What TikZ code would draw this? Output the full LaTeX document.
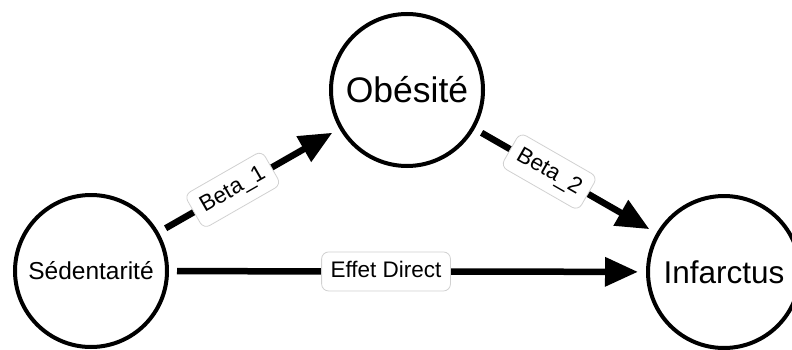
\documentclass[tikz,border=0pt]{standalone}
\usepackage{fontspec}
\setmainfont{Liberation Sans}
\usetikzlibrary{arrows.meta}
\begin{document}
\begin{tikzpicture}[x=1pt,y=-1pt,
  var/.style={circle,draw=black,line width=4pt,fill=white,minimum size=152pt,inner sep=0pt},
  conn/.style={line width=6.5pt,-{Triangle[length=33pt,width=28pt]},shorten <=8pt,shorten >=8pt},
  lab/.style={draw=black!18,line width=0.8pt,fill=white,rounded corners=7pt,font=\fontsize{22.5}{26}\selectfont,text height=16.5pt,text depth=4.5pt,inner xsep=9pt,inner ysep=9pt}]
\useasboundingbox (0,0) rectangle (792,350);
\node[var,font=\fontsize{35.5}{40}\selectfont] (ob) at (407,90) {Obésité};
\node[var,font=\fontsize{24.5}{28}\selectfont] (sed) at (91,271) {Sédentarité};
\node[var,font=\fontsize{31.5}{36}\selectfont] (inf) at (724,272) {Infarctus};
\draw[conn] (sed) -- node[lab,sloped,pos=0.41] {Beta\_1} (ob);
\draw[conn] (ob) -- node[lab,sloped,pos=0.41] {Beta\_2} (inf);
\draw[conn] (sed) -- node[lab,pos=0.455] {Effet Direct} (inf);
\end{tikzpicture}
\end{document}
